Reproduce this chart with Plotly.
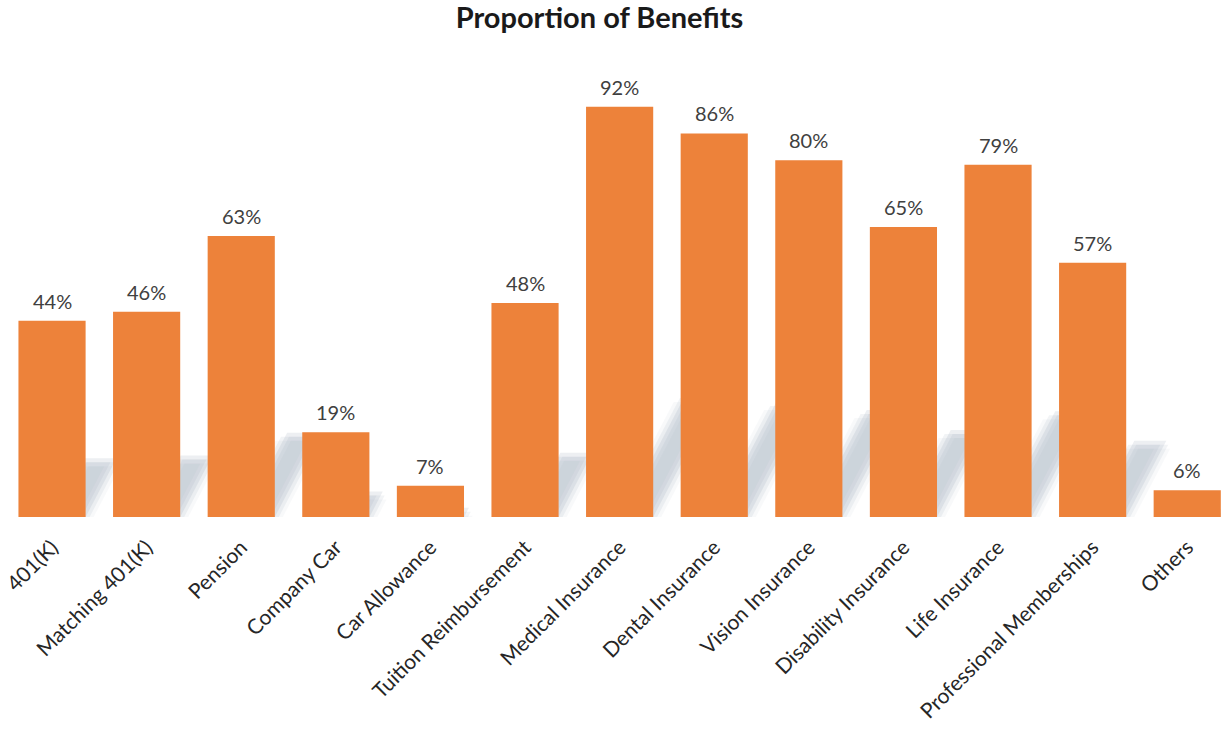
import plotly.graph_objects as go

categories = ["401(K)", "Matching 401(K)", "Pension", "Company Car", "Car Allowance",
              "Tuition Reimbursement", "Medical Insurance", "Dental Insurance",
              "Vision Insurance", "Disability Insurance", "Life Insurance",
              "Professional Memberships", "Others"]
values = [44, 46, 63, 19, 7, 48, 92, 86, 80, 65, 79, 57, 6]

BAR = "#ED823A"
PX_PER_UNIT = 4.457   # pixels per percent on y
PX_PER_CAT = 94.6     # pixels per category on x
BAR_W = 0.71

fig = go.Figure()
fig.add_trace(go.Bar(x=list(range(len(categories))), y=values, marker_color=BAR,
                     marker_line_width=0, width=BAR_W, hoverinfo="skip"))

# soft diagonal shadows behind bars (several shifted copies to mimic blur)
shapes = []
SLOPE = 1.9
for i, v in enumerate(values):
    h_px = v * PX_PER_UNIT * 0.3
    x1 = i + BAR_W / 2
    for e, op in [(-8, 0.05), (-4, 0.10), (0, 0.14), (4, 0.10), (8, 0.05)]:
        hh_px = h_px - abs(e)
        if hh_px <= 0:
            continue
        hh = hh_px / PX_PER_UNIT
        d = hh_px / SLOPE / PX_PER_CAT
        left = x1 + (e - 32) / PX_PER_CAT
        right = x1 + e / PX_PER_CAT
        path = f"M {left},0 L {right},0 L {right + d},{hh} L {left + d},{hh} Z"
        shapes.append(dict(type="path", path=path, xref="x", yref="y",
                           fillcolor=f"rgba(125,143,165,{op})", line_width=0,
                           layer="below"))

annotations = []
for i, v in enumerate(values):
    annotations.append(dict(x=i, y=v, text=f"{v}%", showarrow=False, yanchor="bottom",
                            yshift=6, font=dict(family="Lato", size=20, color="#404040")))

fig.update_layout(
    width=1221, height=731,
    margin=dict(l=0, r=0, t=71, b=214),
    paper_bgcolor="white", plot_bgcolor="white",
    title=dict(text="<b>Proportion of Benefits</b>", x=0.491, xanchor="center",
               y=0.975, yanchor="middle",
               font=dict(family="Lato", size=29, color="#1a1a1a")),
    xaxis=dict(tickmode="array", tickvals=list(range(len(categories))), ticktext=categories,
               range=[-0.55, 12.357], tickangle=-45, showgrid=False, zeroline=False,
               showline=False, ticks="", ticklabelstandoff=13,
               tickfont=dict(family="Lato", size=21, color="#262626")),
    yaxis=dict(range=[0, 100], visible=False),
    shapes=shapes, annotations=annotations, showlegend=False,
)
fig.write_html("out.html")
